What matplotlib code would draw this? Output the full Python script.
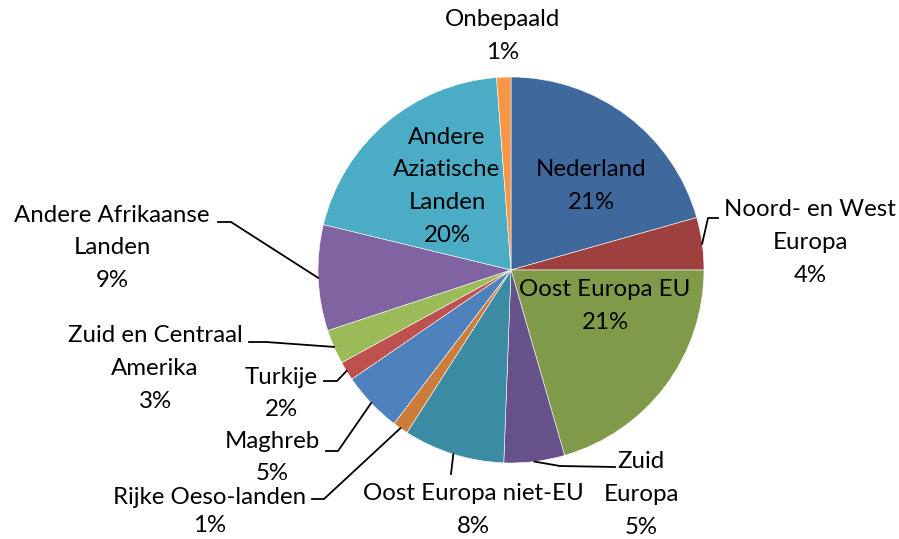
import numpy as np
import matplotlib.pyplot as plt

plt.rcParams['font.family'] = ['Lato', 'DejaVu Sans']

# regions, clockwise from 12 o'clock
names = ["Nederland", "Noord- en West\nEuropa", "Oost Europa EU", "Zuid\nEuropa",
         "Oost Europa niet-EU", "Rijke Oeso-landen", "Maghreb", "Turkije",
         "Zuid en Centraal\nAmerika", "Andere Afrikaanse\nLanden",
         "Andere\nAziatische\nLanden", "Onbepaald"]
values = [20.7, 4.4, 20.6, 5.1, 8.5, 1.3, 5.1, 1.6, 2.9, 8.9, 20.1, 1.2]
pct_labels = ["21%", "4%", "21%", "5%", "8%", "1%", "5%", "2%", "3%", "9%", "20%", "1%"]
colors = ["#3F689C", "#9E413E", "#7F9A48", "#67518A", "#3B8CA3", "#CC7B38",
          "#4F81BD", "#C0504D", "#9BBB59", "#8064A2", "#4BACC6", "#F79646"]

W, H = 899, 539
fig = plt.figure(figsize=(W / 100, H / 100), dpi=100)
ax = fig.add_axes([0, 0, 1, 1])

cx, cy, r = 511, H - 270, 193
wedges, _ = ax.pie(values, colors=colors, startangle=90, counterclock=False,
                   center=(cx, cy), radius=r, frame=True,
                   wedgeprops=dict(linewidth=0.4, edgecolor='white'))
ax.set_xlim(0, W)
ax.set_ylim(0, H)
ax.set_aspect('equal')
ax.axis('off')

fs = 17.3
step = 32.7
# label placement in pixels from top-left: centre x, first line y, line step, leader points (elbow, end)
layout = {
    0: ((591, 170), step, None),
    1: ((810, 210), step, [(708, 218), (718, 218)]),
    2: ((605, 290), step, None),
    3: ((641, 462), step, [(560, 466), (615, 467)]),
    4: ((473, 494), step, [(451, 474), (451, 474)]),
    5: ((210, 497), 28.5, [(324, 499), (312, 499)]),
    6: ((272, 441), step, [(338, 451), (326, 451)]),
    7: ((281, 377), step, [(337, 381), (324, 381)]),
    8: ((155, 336), step, [(266, 342), (249, 342)]),
    9: ((112, 215), step, [(231, 222), (218, 222)]),
    10: ((447, 137), step, None),
    11: ((503, 20), step, None),
}

for i, w in enumerate(wedges):
    (tx, ty), dy, leader = layout[i]
    lines = names[i].split("\n") + [pct_labels[i]]
    for k, line in enumerate(lines):
        ax.text(tx, H - (ty + k * dy), line, ha='center', va='center',
                fontsize=fs, color='black')
    if leader is not None:
        mid = np.deg2rad((w.theta1 + w.theta2) / 2)
        sx, sy = cx + r * np.cos(mid), cy + r * np.sin(mid)
        xs = [sx] + [p[0] for p in leader]
        ys = [sy] + [H - p[1] for p in leader]
        ax.plot(xs, ys, color='black', linewidth=1.3)

fig.savefig("out.png", dpi=100)
